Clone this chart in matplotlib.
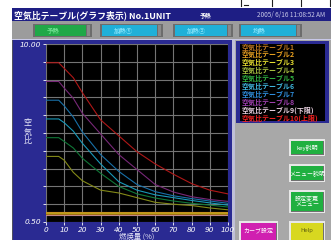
import matplotlib
matplotlib.use("Agg")
import matplotlib.pyplot as plt
from matplotlib.patches import Rectangle

plt.rcParams['font.family'] = ['Noto Sans CJK JP', 'DejaVu Sans']

# ---------------- data ----------------
load = [0, 7, 10, 15, 20, 30, 40, 50, 60, 70, 80, 90, 100]
table1 = [0.93] * 13
table2 = [1.06] * 13
table3 = [1.00] * 13
table4 = [4.0, 4.0, 3.8, 3.15, 2.7, 2.2, 2.05, 1.8, 1.55, 1.45, 1.38, 1.25, 1.15]
table5 = [5.0, 5.0, 4.8, 4.45, 3.9, 3.1, 2.4, 2.0, 1.78, 1.62, 1.5, 1.4, 1.3]
table6 = [6.0, 6.0, 5.8, 5.35, 4.7, 3.6, 2.65, 2.2, 1.95, 1.8, 1.65, 1.52, 1.4]
table7 = [7.0, 7.0, 6.7, 6.1, 5.3, 4.1, 3.2, 2.5, 2.12, 1.9, 1.75, 1.62, 1.5]
table8 = [8.0, 8.0, 7.65, 7.1, 6.3, 5.2, 4.1, 3.3, 2.5, 2.1, 1.85, 1.7, 1.6]
table9 = [0.85] * 13
table10 = [9.0, 9.0, 8.7, 8.2, 7.4, 5.95, 5.1, 4.25, 3.6, 3.05, 2.55, 2.2, 2.0]

series = [table1, table2, table3, table4, table5, table6, table7, table8, table9, table10]
line_colors = ['#a06810', '#c89020', '#b8a018', '#848a18', '#107838',
               '#1898b8', '#1870a8', '#782878', '#c08888', '#b01818']

legend_labels = ['空気比テーブル1', '空気比テーブル2', '空気比テーブル3', '空気比テーブル4',
                 '空気比テーブル5', '空気比テーブル6', '空気比テーブル7', '空気比テーブル8',
                 '空気比テーブル9(下限)', '空気比テーブル10(上限)']
legend_colors = ['#c07820', '#e8a020', '#e8e030', '#a8c040', '#30b040',
                 '#40b8e0', '#3090e0', '#a040b0', '#e8d0e0', '#f02020']

x_ticks = [0, 10, 20, 30, 40, 50, 60, 70, 80, 90, 100]
y_min, y_max = 0.5, 10.0
y_tick_labels = ['0.50', '10.00']

title_text = '空気比テーブル(グラフ表示) No.1UNIT'
mode_text = '予熱'
date_text = '2005/ 6/16 11:08:52 AM'
top_buttons = ['予熱', '加熱①', '加熱②', '均熱']
y_label = '空気比'
x_label = '燃焼量 (%)'

# ---------------- figure ----------------
W, H = 331, 240
fig = plt.figure(figsize=(W / 100, H / 100), dpi=100)
fig.patch.set_facecolor('white')

bg = fig.add_axes([0, 0, 1, 1])
bg.set_xlim(0, W)
bg.set_ylim(H, 0)
bg.axis('off')


def rect(x0, y0, x1, y1, fc, ec='none', lw=0, z=1):
    bg.add_patch(Rectangle((x0, y0), x1 - x0, y1 - y0, facecolor=fc,
                           edgecolor=ec, linewidth=lw, zorder=z))


# screen frame
rect(12, 8, W, H, '#a8a8a8')
# title bar
rect(12, 8, W, 21, '#1e1e84')
bg.text(14, 15, title_text, color='white', fontsize=6.4, fontweight='bold',
        va='center', ha='left', zorder=5)
bg.text(200, 15.5, mode_text, color='white', fontsize=4.2, fontweight='bold',
        va='center', ha='left', zorder=5)
bg.text(325, 15.5, date_text, color='#c8c8e8', fontsize=4.6,
        va='center', ha='right', zorder=5)

# top button row
rect(12, 21, W, 40, '#9c9c9c')
btn_x = [(33, 92), (100, 163), (173, 233), (239, 302)]
btn_fc = ['#20a848', '#20b0d8', '#20b0d8', '#20b0d8']
btn_tc = ['#70e090', '#80e0f8', '#80e0f8', '#80e0f8']
for (x0, x1), fc, tc, lab in zip(btn_x, btn_fc, btn_tc, top_buttons):
    rect(x0, 24, x1, 37, '#6c6c6c', z=2)
    rect(x0 + 2, 25, x1 - 6, 36, fc, z=3)
    rect(x1 - 5, 25, x1 - 2, 36, '#8a8a8a', z=3)
    bg.text(x0 + 14, 30.8, lab, color=tc, fontsize=4.6, fontweight='bold',
            va='center', ha='left', zorder=5)
rect(12, 38.5, W, 40, '#c8c8e8', z=2)

# left blue panel
rect(12, 40, 233, H, '#2a2a92', z=2)
rect(12, 40, 13.2, H, '#505060', z=3)
rect(232, 40, 234.5, H, '#c0c0d8', z=3)

# legend box
rect(235.5, 40.5, 328.5, 123, '#2a2a92', z=2)
rect(239.5, 43.5, 325, 120.5, 'black', z=3)
for i, (lab, col) in enumerate(zip(legend_labels, legend_colors)):
    bg.text(241.5, 47 + i * 7.9, lab, color=col, fontsize=5.0, fontweight='bold',
            va='center', ha='left', zorder=5)

# right side buttons
def button(x0, y0, x1, y1, fc, lines, tc='white'):
    rect(x0, y0, x1, y1, '#e8e8e8', z=3)
    rect(x0 + 1.5, y0 + 1.5, x1 - 1, y1 - 1, '#707070', z=3)
    rect(x0 + 1.5, y0 + 1.5, x1 - 2, y1 - 2, fc, z=4)
    n = len(lines)
    cy = (y0 + y1) / 2
    if y1 > H:
        cy = (y0 + H) / 2
    for k, t in enumerate(lines):
        bg.text((x0 + x1) / 2, cy + (k - (n - 1) / 2) * 6.5, t, color=tc,
                fontsize=4.3, va='center', ha='center', zorder=6)

button(289, 139, 325, 156, '#20b040', ['key説明'])
button(289, 164, 325, 182, '#20b040', ['メニュー説明'])
button(289, 190, 325, 213, '#20b040', ['設定変更', 'メニュー'])
button(289, 221, 325, 246, '#d8d820', ['Help'], tc='#606010')
button(239, 221, 278, 246, '#d020b0', ['カーブ設定'])

# top white strip fragments (cut-off marks above the screen)
for xv in (241, 272, 301, 330):
    bg.plot([xv, xv], [0, 6], color='#202020', lw=0.8)
bg.plot([244, 248], [5, 5], color='#202020', lw=0.8)

# ---------------- chart ----------------
L, R, T, B = 46, 228, 44, 222
ax = fig.add_axes([L / W, 1 - B / H, (R - L) / W, (B - T) / H])
ax.set_facecolor('black')
ax.set_xlim(0, 100)
ax.set_ylim(y_min, y_max)

ystep = (y_max - y_min) / 10
yt = [y_min + k * ystep for k in range(11)]
ax.set_xticks(x_ticks)
ax.set_yticks(yt)
ax.grid(True, color='#747474', linewidth=0.8)
ax.set_axisbelow(True)

for vals, col in zip(series, line_colors):
    ax.plot(load, vals, color=col, linewidth=0.8, zorder=3)

ax.set_xticklabels([str(v) for v in x_ticks], fontsize=5.3, color='white',
                   style='italic', family='DejaVu Sans')
ylabs = [''] * 11
ylabs[0] = y_tick_labels[0]
ylabs[-1] = y_tick_labels[1]
ax.set_yticklabels(ylabs, fontsize=5.3, color='white', style='italic',
                   family='DejaVu Sans')
ax.tick_params(axis='both', colors='white', length=2, width=0.6, pad=1.5,
               labelcolor='white')
for s in ax.spines.values():
    s.set_visible(False)

# axis labels
for k, ch in enumerate(y_label):
    bg.text(28, 123 + k * 9, ch, color='#e8e8f8', fontsize=5.8,
            va='center', ha='center', zorder=5)
bg.text(137, 236.6, x_label, color='#e8e8f8', fontsize=5.3,
        va='center', ha='center', zorder=5)

fig.savefig('out.png', dpi=100)
